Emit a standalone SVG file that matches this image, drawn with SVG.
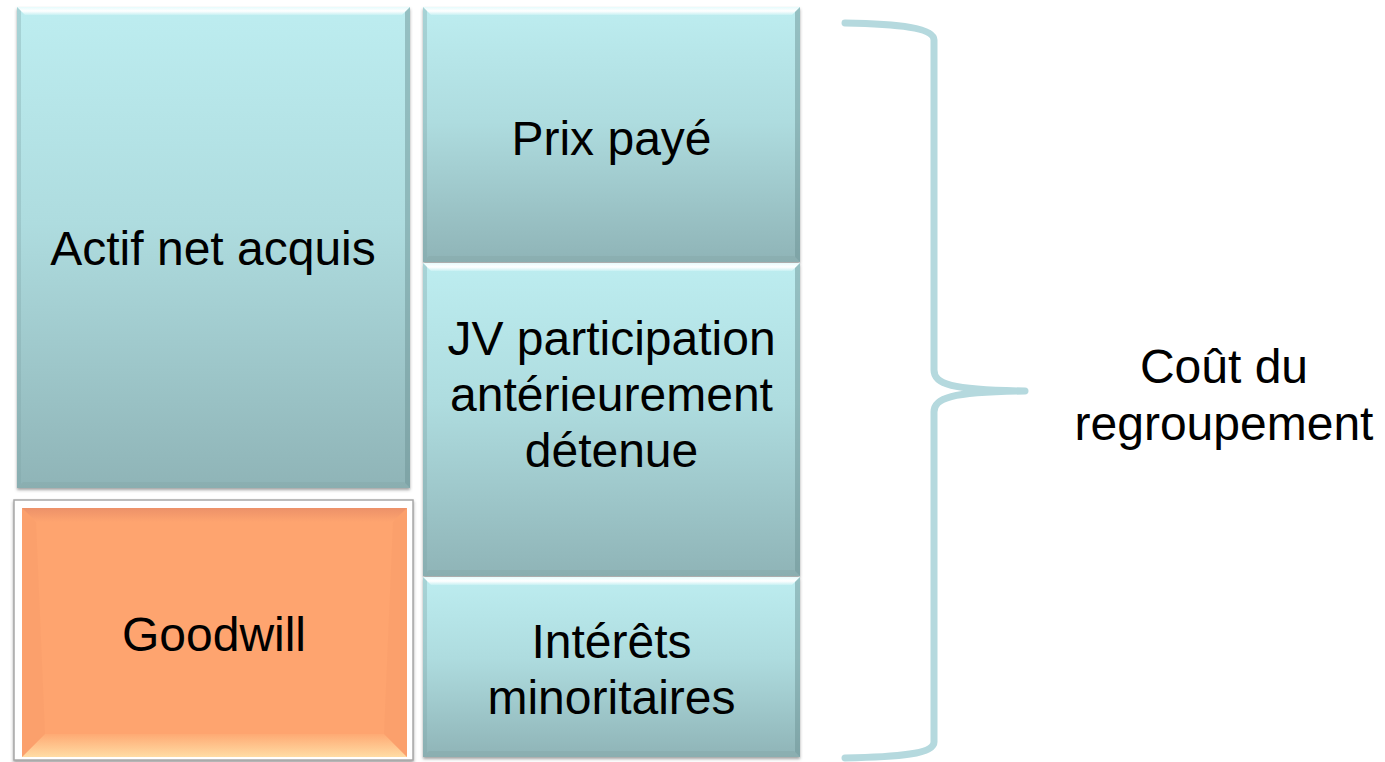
<svg xmlns="http://www.w3.org/2000/svg" width="1385" height="762" viewBox="0 0 1385 762">
  <style>
    .lbl { font-family: "Liberation Sans", Arial, sans-serif; font-size: 48px; fill: #000; text-anchor: middle; }
    .teal { fill: url(#gTeal); }
    .bevT { fill: url(#gBevT); }
    .bevB { fill: #86a9ac; opacity: 0.55; }
    .bevL { fill: #7fa3a6; opacity: 0.35; }
    .bevR { fill: #6e9396; opacity: 0.5; }
    .orSide { fill: #f69868; opacity: 0.3; }
    .brace { fill: none; stroke: #b5d9de; stroke-width: 7; stroke-linecap: round; stroke-linejoin: round; }
  </style>
  <defs>
    <linearGradient id="gTeal" x1="0" y1="0" x2="0" y2="1">
      <stop offset="0" stop-color="#bdedf0"/>
      <stop offset="0.45" stop-color="#aedcdf"/>
      <stop offset="1" stop-color="#8fb4b7"/>
    </linearGradient>
    <linearGradient id="gBevT" x1="0" y1="0" x2="0" y2="1">
      <stop offset="0" stop-color="#e6fbfc"/>
      <stop offset="0.5" stop-color="#ffffff"/>
      <stop offset="1" stop-color="#c8f1f3"/>
    </linearGradient>
    <linearGradient id="gOrT" x1="0" y1="0" x2="0" y2="1">
      <stop offset="0" stop-color="#ec9169"/>
      <stop offset="1" stop-color="#fea46f"/>
    </linearGradient>
    <linearGradient id="gOrB" x1="0" y1="0" x2="0" y2="1">
      <stop offset="0" stop-color="#feaa74"/>
      <stop offset="1" stop-color="#ffdca4"/>
    </linearGradient>
    <filter id="sh" x="-5%" y="-5%" width="110%" height="110%">
      <feDropShadow dx="0" dy="2" stdDeviation="1.6" flood-color="#555" flood-opacity="0.55"/>
    </filter>
  </defs>

  <g id="actif">
    <rect x="17" y="7" width="393" height="481" class="teal" filter="url(#sh)"/>
    <polygon class="bevT" points="17,7 410,7 402,15 25,15"/>
    <polygon class="bevL" points="17,7 21,11 21,484 17,488"/>
    <polygon class="bevR" points="410,7 405,12 405,483 410,488"/>
    <polygon class="bevB" points="17,488 410,488 404,482 23,482"/>
    <text class="lbl" x="213" y="265">Actif net acquis</text>
  </g>

  <g id="goodwill">
    <rect x="14" y="500" width="399" height="260" fill="#ffffff" stroke="#a8a8a8" stroke-width="1.5" filter="url(#sh)"/>
    <rect x="22" y="508" width="385" height="249" fill="#fea46f"/>
    <polygon fill="url(#gOrT)" points="22,508 407,508 393,522 36,522"/>
    <polygon fill="url(#gOrB)" points="22,757 407,757 384,734 45,734"/>
    <polygon class="orSide" points="22,508 36,522 45,734 22,757"/>
    <polygon class="orSide" points="407,508 393,522 384,734 407,757"/>
    <text class="lbl" x="214" y="651">Goodwill</text>
  </g>

  <g id="prix">
    <rect x="423" y="7" width="377" height="255" class="teal" filter="url(#sh)"/>
    <polygon class="bevT" points="423,7 800,7 792,15 431,15"/>
    <polygon class="bevL" points="423,7 427,11 427,258 423,262"/>
    <polygon class="bevR" points="800,7 795,12 795,257 800,262"/>
    <polygon class="bevB" points="423,262 800,262 794,256 429,256"/>
    <text class="lbl" x="611.5" y="155">Prix payé</text>
  </g>

  <g id="jv">
    <rect x="423" y="263" width="377" height="313" class="teal" filter="url(#sh)"/>
    <polygon class="bevT" points="423,263 800,263 792,271 431,271"/>
    <polygon class="bevL" points="423,263 427,267 427,572 423,576"/>
    <polygon class="bevR" points="800,263 795,268 795,571 800,576"/>
    <polygon class="bevB" points="423,576 800,576 794,570 429,570"/>
    <text class="lbl" x="611.5" y="355">JV participation</text>
    <text class="lbl" x="611.5" y="411">antérieurement</text>
    <text class="lbl" x="611.5" y="467">détenue</text>
  </g>

  <g id="interets">
    <rect x="423" y="577" width="377" height="180" class="teal" filter="url(#sh)"/>
    <polygon class="bevT" points="423,577 800,577 792,585 431,585"/>
    <polygon class="bevL" points="423,577 427,581 427,753 423,757"/>
    <polygon class="bevR" points="800,577 795,582 795,752 800,757"/>
    <polygon class="bevB" points="423,757 800,757 794,751 429,751"/>
    <text class="lbl" x="611.5" y="658">Intérêts</text>
    <text class="lbl" x="611.5" y="714">minoritaires</text>
  </g>

  <g id="connectors">
    <path class="brace" d="M845,23 C900,24 934,28 934,40 L934,370 C934,384 950,390 1025,391 C950,392 934,398 934,412 L934,742 C934,754 900,757 845,758"/>
  </g>

  <g id="cout">
    <text class="lbl" x="1224" y="383">Coût du</text>
    <text class="lbl" x="1224" y="440">regroupement</text>
  </g>
</svg>
